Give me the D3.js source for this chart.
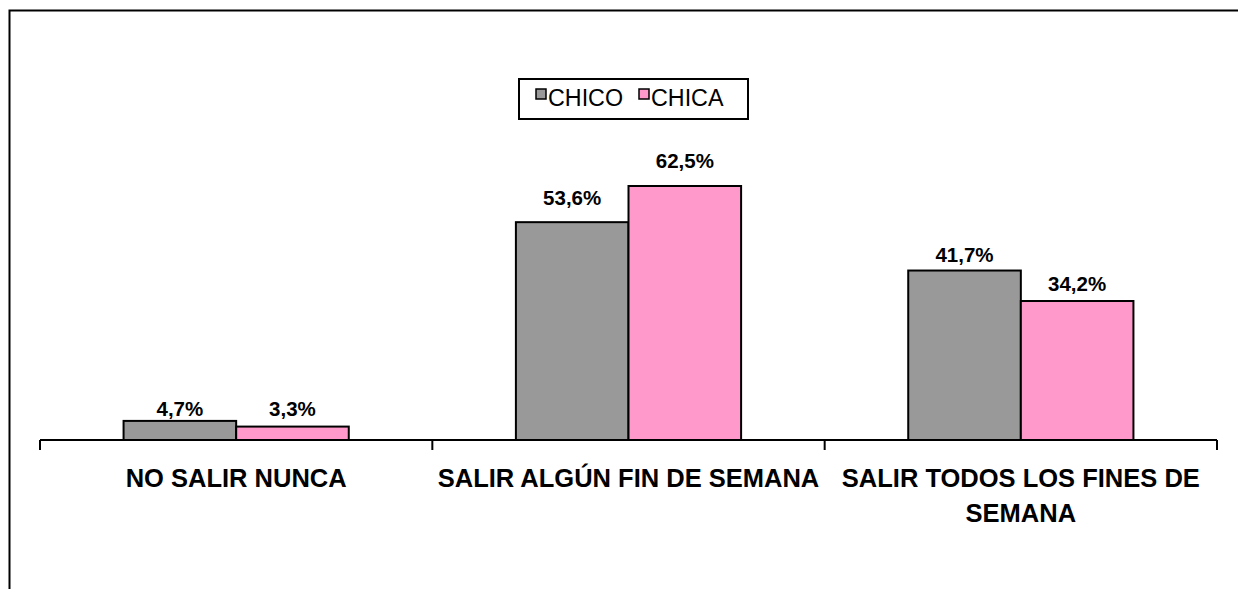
<!DOCTYPE html>
<html>
<head>
<meta charset="utf-8">
<script src="https://cdn.jsdelivr.net/npm/d3@7"></script>
<style>
  body { margin: 0; background: #fff; }
  svg { display: block; font-family: Arial, "Liberation Sans", sans-serif; }
</style>
</head>
<body>
<svg></svg>
<script>
let categories = ['NO SALIR NUNCA', 'SALIR ALGÚN FIN DE SEMANA', 'SALIR TODOS LOS FINES DE|SEMANA']
let seriesNames = ['CHICO', 'CHICA']
let chico = [4.7, 53.6, 41.7]
let chica = [3.3, 62.5, 34.2]
let colors = ['#999999', '#ff99cc']

// gap between each bar top and its label baseline, as placed in the original
let labelGap = [[5, 11], [17, 18], [9, 10]]

let width = 1238
let height = 589
let left = 40
let right = 1217
let baseline = 440

let svg = d3.select('svg')
  .attr('width', width)
  .attr('height', height)

// outer frame (right and bottom edges fall outside the window)
svg.append('rect')
  .attr('x', 9.5).attr('y', 10.5)
  .attr('width', 1240).attr('height', 600)
  .attr('fill', 'none').attr('stroke', '#000').attr('stroke-width', 2)

let xScale = d3.scaleBand()
  .domain(categories)
  .range([left, right])
  .paddingInner(0.426)
  .paddingOuter(0.213)

let groupScale = d3.scaleBand()
  .domain(seriesNames)
  .range([0, xScale.bandwidth()])

let yScale = d3.scaleLinear()
  .domain([0, 62.5])
  .range([baseline, 186])

let rows = categories.map((c, i) => ({ cat: c, i: i, values: [chico[i], chica[i]] }))

let groups = svg.selectAll('g.group')
  .data(rows)
  .enter()
  .append('g')
  .attr('class', 'group')
  .attr('transform', d => 'translate(' + xScale(d.cat) + ',0)')

groups.selectAll('rect')
  .data(d => d.values.map((v, j) => ({ name: seriesNames[j], value: v, j: j })))
  .enter()
  .append('rect')
  .attr('x', d => groupScale(d.name))
  .attr('y', d => yScale(d.value))
  .attr('width', groupScale.bandwidth())
  .attr('height', d => baseline - yScale(d.value))
  .attr('fill', d => colors[d.j])
  .attr('stroke', '#000')
  .attr('stroke-width', 2)

groups.selectAll('text.val')
  .data(d => d.values.map((v, j) => ({ name: seriesNames[j], value: v, gap: labelGap[d.i][j] })))
  .enter()
  .append('text')
  .attr('class', 'val')
  .attr('x', d => groupScale(d.name) + groupScale.bandwidth() / 2)
  .attr('y', d => yScale(d.value) - d.gap)
  .attr('text-anchor', 'middle')
  .attr('font-size', 20.5)
  .attr('font-weight', 'bold')
  .text(d => d.value.toFixed(1).replace('.', ',') + '%')

// category axis
let axisX = d3.scalePoint().domain(d3.range(categories.length + 1)).range([left, right])
svg.append('line')
  .attr('x1', left).attr('x2', right)
  .attr('y1', baseline).attr('y2', baseline)
  .attr('stroke', '#000').attr('stroke-width', 2)
svg.selectAll('line.tick')
  .data(axisX.domain())
  .enter()
  .append('line')
  .attr('class', 'tick')
  .attr('x1', d => axisX(d)).attr('x2', d => axisX(d))
  .attr('y1', baseline).attr('y2', baseline + 10)
  .attr('stroke', '#000').attr('stroke-width', 2)

let labels = svg.selectAll('text.cat')
  .data(categories)
  .enter()
  .append('text')
  .attr('class', 'cat')
  .attr('text-anchor', 'middle')
  .attr('font-size', 25.5)
  .attr('font-weight', 'bold')
  .attr('y', 487)

labels.selectAll('tspan')
  .data(d => d.split('|').map(t => ({ t: t, x: xScale(d) + xScale.bandwidth() / 2 })))
  .enter()
  .append('tspan')
  .attr('x', d => d.x)
  .attr('dy', (d, i) => i === 0 ? 0 : 35)
  .text(d => d.t)

// legend
let legend = svg.append('g').attr('transform', 'translate(519,79)')
legend.append('rect')
  .attr('width', 229).attr('height', 40)
  .attr('fill', '#fff').attr('stroke', '#000').attr('stroke-width', 2)
let legendX = [17, 120]
let items = legend.selectAll('g.item')
  .data(seriesNames)
  .enter()
  .append('g')
  .attr('transform', (d, i) => 'translate(' + legendX[i] + ',10)')
items.append('rect')
  .attr('width', 10).attr('height', 10)
  .attr('fill', (d, i) => colors[i])
  .attr('stroke', '#000').attr('stroke-width', 1.5)
items.append('text')
  .attr('x', 12).attr('y', 17)
  .attr('font-size', 23.3)
  .text(d => d)
</script>
</body>
</html>
